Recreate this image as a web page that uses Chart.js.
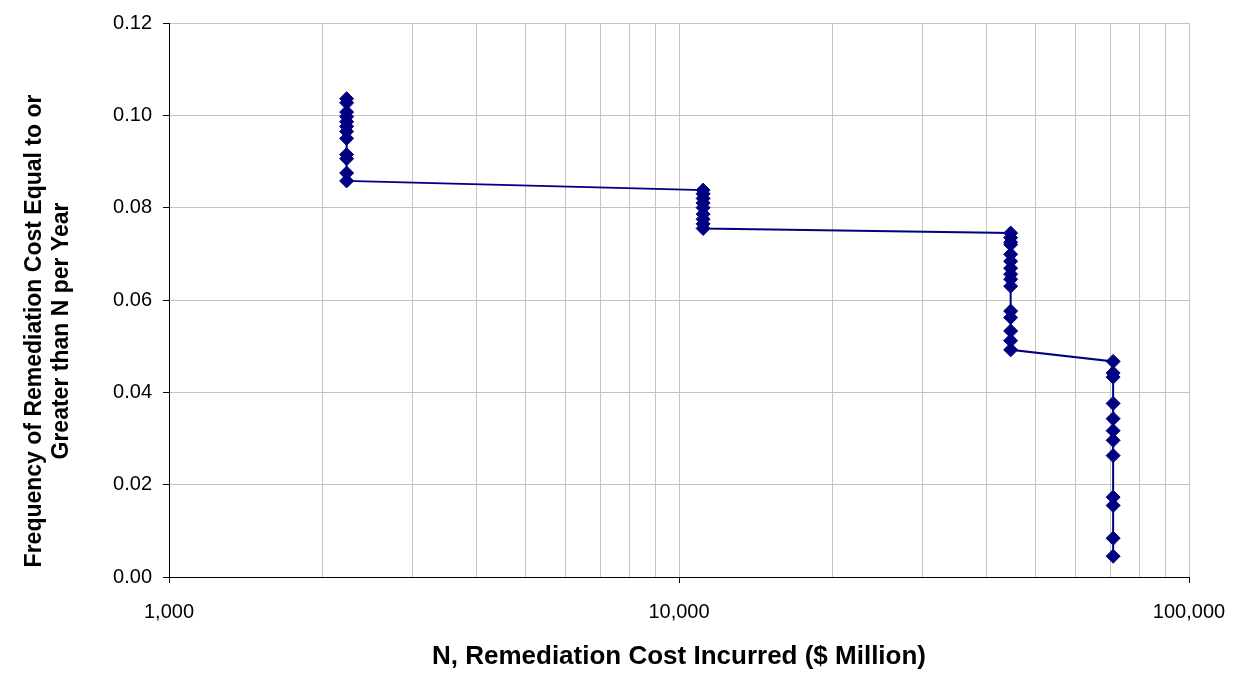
<!DOCTYPE html>
<html>
<head>
<meta charset="utf-8">
<script src="https://cdn.jsdelivr.net/npm/chart.js@4.4.1/dist/chart.umd.min.js"></script>
<style>
  html, body { margin: 0; padding: 0; background: #ffffff; }
  #wrap { width: 1251px; height: 675px; }
</style>
</head>
<body>
<div id="wrap"><canvas id="c" width="1251" height="675"></canvas></div>
<script>
// Remediation cost levels (N, $ Million) for each group of outcomes
const costLevels = [2230, 11150, 44700, 71000];

// Exceedance frequencies per year at each cost level, highest first
const freqAt2230 = [0.1036, 0.1027, 0.1007, 0.0997, 0.0986, 0.0976, 0.0965, 0.0950, 0.0915, 0.0906, 0.0875, 0.0858];
const freqAt11150 = [0.0838, 0.0830, 0.0820, 0.0810, 0.0800, 0.0786, 0.0775, 0.0765, 0.0755];
const freqAt44700 = [0.0745, 0.0735, 0.0725, 0.0720, 0.0699, 0.0684, 0.0669, 0.0656, 0.0645, 0.0630, 0.0576, 0.0562, 0.0533, 0.0512, 0.0492];
const freqAt71000 = [0.0467, 0.0442, 0.0433, 0.0376, 0.0343, 0.0317, 0.0296, 0.0263, 0.0173, 0.0155, 0.0084, 0.0045];

// Axis ticks and titles
const yTicks = [0, 0.02, 0.04, 0.06, 0.08, 0.10, 0.12];
const xMajorTicks = [1000, 10000, 100000];
const xTitle = 'N, Remediation Cost Incurred ($ Million)';
const yTitleLines = ['Frequency of Remediation Cost Equal to or', 'Greater than N per Year'];

const groups = [freqAt2230, freqAt11150, freqAt44700, freqAt71000];
const points = [];
groups.forEach((g, i) => g.forEach(f => points.push({ x: costLevels[i], y: f })));

// Log ticks: every 1..9 multiple within each decade, labelled only at decades
const xAllTicks = [];
for (let d = 1000; d < 100000; d *= 10) {
  for (let m = 1; m < 10; m++) xAllTicks.push(d * m);
}
xAllTicks.push(100000);
const isMajor = v => xMajorTicks.includes(v);

const FONT = "'Liberation Sans', Arial, sans-serif";
const NAVY = '#000080';
const GRID = '#c4c4c4';

// Rotated two-line title beside the y axis
const yTitlePlugin = {
  id: 'yTitle',
  afterDraw(chart) {
    const ctx = chart.ctx;
    ctx.save();
    ctx.font = `bold 23px ${FONT}`;
    ctx.fillStyle = '#000';
    ctx.textAlign = 'center';
    ctx.textBaseline = 'middle';
    ctx.translate(0, 331);
    ctx.rotate(-Math.PI / 2);
    ctx.fillText(yTitleLines[0], 0, 35);
    ctx.fillText(yTitleLines[1], 0, 62);
    ctx.restore();
  }
};

new Chart(document.getElementById('c'), {
  type: 'line',
  data: {
    datasets: [{
      data: points,
      borderColor: NAVY,
      backgroundColor: NAVY,
      borderWidth: 2,
      pointStyle: 'rectRot',
      pointRadius: 7,
      pointHoverRadius: 7,
      pointBackgroundColor: NAVY,
      pointBorderColor: NAVY,
      pointBorderWidth: 1,
      tension: 0,
      fill: false
    }]
  },
  plugins: [yTitlePlugin],
  options: {
    responsive: false,
    animation: false,
    devicePixelRatio: 1,
    layout: { padding: { top: 21, right: 62, bottom: 0, left: 0 } },
    plugins: { legend: { display: false }, tooltip: { enabled: false } },
    scales: {
      x: {
        type: 'logarithmic',
        min: 1000,
        max: 100000,
        afterBuildTicks: s => { s.ticks = xAllTicks.map(v => ({ value: v, major: isMajor(v) })); },
        afterFit: s => { s.height = 98; },
        ticks: {
          autoSkip: false,
          maxRotation: 0,
          padding: 17,
          color: '#000',
          font: { family: FONT, size: 20 },
          callback: v => isMajor(v) ? v.toLocaleString('en-US') : ''
        },
        grid: {
          color: GRID,
          lineWidth: 1,
          tickLength: 6,
          tickColor: ctx => (ctx.tick && isMajor(ctx.tick.value)) ? '#000' : 'rgba(0,0,0,0)'
        },
        border: { color: '#000', width: 1 },
        title: {
          display: true,
          text: xTitle,
          color: '#000',
          font: { family: FONT, size: 26, weight: 'bold', lineHeight: 1.1 },
          padding: { top: 0, bottom: 4 }
        }
      },
      y: {
        min: 0,
        max: 0.12,
        afterBuildTicks: s => { s.ticks = yTicks.map(v => ({ value: v })); },
        afterFit: s => { s.width = 169; },
        ticks: {
          padding: 11,
          color: '#000',
          font: { family: FONT, size: 20 },
          callback: v => Number(v).toFixed(2)
        },
        grid: {
          color: GRID,
          lineWidth: 1,
          tickLength: 6,
          tickColor: '#000'
        },
        border: { color: '#000', width: 1 },
        title: { display: false }
      }
    }
  }
});
</script>
</body>
</html>
